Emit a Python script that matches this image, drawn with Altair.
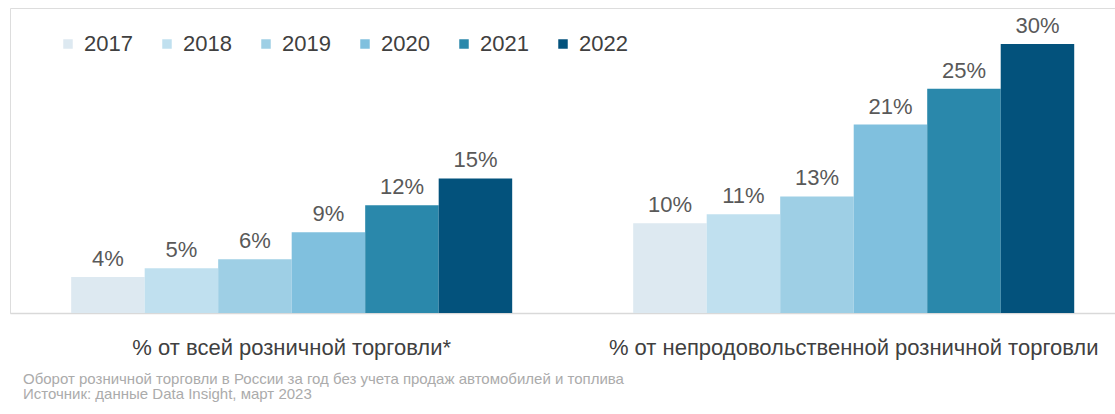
import altair as alt
import pandas as pd

groups = ["% от всей розничной торговли*", "% от непродовольственной розничной торговли"]
years = ["2017", "2018", "2019", "2020", "2021", "2022"]
share_all = [4, 5, 6, 9, 12, 15]
share_nonfood = [10, 11, 13, 21, 25, 30]
colors = ["#dde9f1", "#c0e0ef", "#9ecfe5", "#80c0de", "#2a88ab", "#03527c"]
footnote = [
    "Оборот розничной торговли в России за год без учета продаж автомобилей и топлива",
    "Источник: данные Data Insight, март 2023",
]

rows = []
for g, vals in zip(groups, [share_all, share_nonfood]):
    for y, v in zip(years, vals):
        rows.append({"group": g, "year": y, "value": v, "label": f"{v}%"})
df = pd.DataFrame(rows)

FONT = "Liberation Sans"

xscale = alt.Scale(paddingInner=0.2153, paddingOuter=0.0907, align=0.6)
x = alt.X("group:N", sort=groups, title=None, scale=xscale,
          axis=alt.Axis(labelAngle=0, labelFontSize=22, labelColor="#404040",
                        labelFont=FONT, ticks=False, domainColor="#d9d9d9",
                        domainWidth=1.5, labelPadding=24, labelLimit=800))
xo = alt.XOffset("year:N", sort=years, scale=alt.Scale(paddingInner=0, paddingOuter=0))
y = alt.Y("value:Q", scale=alt.Scale(domain=[0, 34], nice=False), axis=None)

bars = alt.Chart(df).mark_bar(size=73.5).encode(
    x=x, xOffset=xo, y=y,
    color=alt.Color("year:N", sort=years,
                    scale=alt.Scale(domain=years, range=colors),
                    legend=alt.Legend(title=None, orient="none", direction="horizontal",
                                      legendX=47, legendY=25, symbolType="square",
                                      symbolSize=90, symbolStrokeWidth=0,
                                      labelFontSize=22, labelColor="#404040",
                                      labelFont=FONT, labelOffset=5, columnPadding=23)),
)

texts = alt.Chart(df).mark_text(baseline="alphabetic", dy=-11, fontSize=22,
                                color="#595959", font=FONT).encode(
    x=alt.X("group:N", sort=groups, scale=xscale), xOffset=xo, y=y, text="label:N"
)

chart = alt.layer(bars, texts).properties(
    width=1105, height=305,
    padding={"left": 10, "top": 8, "right": 0, "bottom": 2},
    title=alt.TitleParams(text=footnote, orient="bottom", anchor="start",
                          fontSize=15, color="#ababab", font=FONT, fontWeight="normal",
                          lineHeight=15, dx=13, offset=14),
).configure_view(strokeWidth=0).configure(background="white")

chart.save("out.html", embed_options={"renderer": "svg", "actions": False})
